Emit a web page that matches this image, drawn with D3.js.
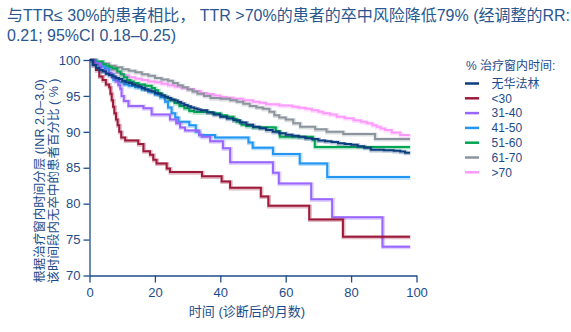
<!DOCTYPE html>
<html>
<head>
<meta charset="utf-8">
<script src="https://cdn.jsdelivr.net/npm/d3@7"></script>
<style>
  html, body { margin: 0; padding: 0; background: #fff; }
  svg { display: block; font-family: "Liberation Sans", Arial, "Noto Sans CJK SC", sans-serif; }
</style>
</head>
<body>
<svg id="chart" width="571" height="332"></svg>
<script>
// Kaplan–Meier style survival steps: [month, % free of stroke]
const noWarfarin = [[0,100],[1,99.3],[2,98.9],[3,98.6],[4,98.4],[5,98.1],[6,97.9],[7,97.7],[8,97.5],[9,97.35],[10,97.1],[11,96.9],[12,96.8],[13,96.6],[14,96.45],[15,96.3],[16,96.1],[17,95.9],[18,95.75],[19,95.6],[20,95.4],[21,95.25],[22,95.05],[23,94.9],[24,94.7],[25,94.5],[26,94.35],[27,94.15],[28,93.95],[29,93.75],[30,93.55],[31,93.4],[32,93.25],[33,93.1],[34,93.0],[36,92.7],[38,92.4],[40,92.1],[42,91.85],[44,91.6],[46,91.3],[48,91.0],[50,90.7],[52,90.5],[54,90.25],[56,90.0],[58,89.8],[60,89.6],[62,89.45],[64,89.3],[66,89.1],[68,89.0],[70,88.8],[72,88.7],[74,88.6],[76,88.4],[78,88.3],[80,88.2],[82,88.0],[84,87.8],[86,87.5],[90,87.45],[93,87.35],[95,87.25],[96.5,87.1],[98,87.1]];
const ttrUnder30 = [[0,100],[1,99.3],[2,98.6],[3,97.7],[4,97.2],[5,96.6],[6,96.2],[6.4,95.3],[6.8,94.4],[7.2,93.5],[7.6,92.6],[8.1,91.7],[8.6,90.9],[9.1,90.0],[9.7,89.2],[10.9,88.8],[14.9,88.3],[16.5,87.3],[18.5,86.8],[19.5,86.1],[20.5,85.6],[23.6,84.9],[24.6,84.4],[34.4,83.8],[40.4,83.1],[43,82.2],[52.4,81.0],[54.7,79.7],[67.2,77.8],[77.5,75.4],[98,75.4]];
const ttr31to40 = [[0,100],[1.5,99.5],[3.3,98.6],[5,98.2],[6.8,97.6],[8,97.0],[8.8,96.5],[9.4,96.0],[9.8,95.0],[10.5,94.3],[11.9,93.6],[16.5,93.3],[19,92.4],[24.6,91.7],[26.5,91.2],[27.7,90.6],[29.2,90.2],[33.5,89.6],[34.3,89.3],[36.9,88.7],[40.8,87.7],[43,85.75],[56.1,84.3],[57.9,82.8],[67.8,80.6],[74.2,78.1],[89.6,74.0],[98,74.0]];
const ttr41to50 = [[0,100],[1.5,99.5],[3,99.1],[4.7,98.8],[6,98.0],[7.3,97.2],[9,96.9],[10.5,96.6],[12,96.4],[14,96.2],[16,95.9],[18,95.6],[20,95.2],[21.6,94.8],[23.1,94.2],[24,93.4],[25.1,92.6],[26.2,92.0],[27.2,91.4],[30.5,90.9],[32.5,90.0],[33.6,89.55],[38.4,89.2],[48.6,88.5],[49.9,87.8],[56.1,86.9],[64.3,85.6],[72.7,83.7],[98,83.7]];
const ttr51to60 = [[0,100],[2,99.8],[4,99.4],[5,99.2],[6,99.0],[7,98.8],[8.5,98.4],[9.5,98.0],[10.5,97.6],[11.5,97.2],[12.5,97.0],[13.5,96.8],[15,96.6],[17,96.4],[19,96.1],[20,95.8],[21,95.4],[22,95.1],[23,94.7],[24.5,94.4],[26,94.0],[27.5,93.6],[29,93.3],[30.5,92.9],[32,92.75],[37.5,92.6],[40,92.3],[42,92.1],[44,91.8],[45,91.4],[46.5,91.0],[48,90.8],[50,90.65],[56,90.6],[57,90.1],[58.2,89.3],[68.3,88.9],[68.9,87.9],[98,87.9]];
const ttr61to70 = [[0,100],[2,99.7],[4,99.5],[6,99.2],[8,99.0],[10,98.7],[12,98.5],[14,98.3],[16,98.0],[18,97.8],[20,97.5],[22,97.3],[24,97.1],[25.5,96.8],[27,96.5],[28.5,96.2],[30,95.9],[31.5,95.6],[33,95.3],[35,95.0],[37,94.7],[40,94.6],[43,94.4],[45,94.2],[47,93.9],[49,93.6],[51,93.4],[53,93.2],[55,92.8],[56.5,92.3],[58,92.0],[60,91.7],[62.3,91.2],[64.4,90.7],[69,90.35],[72.5,90.0],[77.6,89.7],[87.3,89.0],[98,89.0]];
const ttrOver70 = [[0,100],[2,99.5],[4,99.0],[6,98.6],[8,98.2],[10,97.9],[12,97.6],[14,97.4],[16,97.2],[18,97.0],[20,96.9],[22,96.7],[24,96.5],[26,96.3],[28,96.15],[30,95.95],[32,95.7],[34,95.4],[36,95.25],[38,95.05],[40,94.85],[42,94.75],[44,94.6],[47,94.4],[50,94.2],[52,94.05],[54,93.85],[58,93.65],[62,93.5],[64,93.35],[66,93.2],[68,93.0],[70,92.8],[71.4,92.6],[73.5,92.4],[75.6,92.1],[78,91.9],[80.7,91.6],[83,91.4],[84.8,91.2],[86.5,90.9],[87.8,90.7],[89,90.45],[90.4,90.25],[92.4,89.9],[95,89.55],[98,89.55]];

const seriesNames = ["无华法林", "<30", "31-40", "41-50", "51-60", "61-70", ">70"];
const seriesData = [noWarfarin, ttrUnder30, ttr31to40, ttr41to50, ttr51to60, ttr61to70, ttrOver70];
const seriesColors = ["#0c3d7e", "#9d1a3b", "#9966ff", "#2196f3", "#00a651", "#8c959e", "#ff99ff"];

const xTicks = [0, 20, 40, 60, 80, 100];
const yTicks = [70, 75, 80, 85, 90, 95, 100];

const titleLines = ["与TTR≤ 30%的患者相比， TTR >70%的患者的卒中风险降低79% (经调整的RR:", "0.21; 95%CI 0.18–0.25)"];
const yLabelLines = ["根据治疗窗内时间分层 (INR 2.0–3.0)", "该时间段内无卒中的患者百分比 ( % )"];
const xLabel = "时间 (诊断后的月数)";
const legendTitle = "% 治疗窗内时间:";

const ink = "#1d4c8a";
const svg = d3.select("#chart");

const x = d3.scaleLinear().domain([0, 100]).range([89.5, 416.5]);
const y = d3.scaleLinear().domain([70, 100]).range([275.5, 60]);

// title
svg.append("g").selectAll("text").data(titleLines).join("text")
  .attr("x", 7).attr("y", (d, i) => 21 + i * 20)
  .attr("font-size", 16).attr("fill", "#2a5790")
  .text(d => d);

// axes
const xAxis = svg.append("g").attr("transform", `translate(0,${y(70)})`)
  .call(d3.axisBottom(x).tickValues(xTicks).tickSize(7).tickSizeOuter(0).tickPadding(5));
const yAxis = svg.append("g").attr("transform", `translate(${x(0)},0)`)
  .call(d3.axisLeft(y).tickValues(yTicks).tickSize(6).tickSizeOuter(0).tickPadding(3));
[xAxis, yAxis].forEach(g => {
  g.select(".domain").attr("stroke", ink).attr("stroke-width", 1.3);
  g.selectAll(".tick line").attr("stroke", ink).attr("stroke-width", 1.3);
  g.selectAll(".tick text").attr("fill", ink).attr("font-size", 13)
    .attr("font-family", "'Liberation Sans', Arial, sans-serif");
});

// axis titles
svg.append("text").attr("x", 247).attr("y", 316).attr("text-anchor", "middle")
  .attr("font-size", 13).attr("fill", ink).text(xLabel);
svg.append("g").selectAll("text").data(yLabelLines).join("text")
  .attr("transform", (d, i) => `translate(${44 + i * 14},181) rotate(-90)`)
  .attr("text-anchor", "middle").attr("font-size", 12.5).attr("fill", ink)
  .text(d => d);

// survival curves
const line = d3.line().x(d => x(d[0])).y(d => y(d[1])).curve(d3.curveStepAfter);
const order = [6, 5, 4, 3, 2, 1, 0];
const curves = svg.append("g");
order.forEach(i => {
  curves.append("path").attr("d", line(seriesData[i]))
    .attr("fill", "none").attr("stroke", seriesColors[i]).attr("stroke-opacity", 0.3)
    .attr("stroke-width", 4).attr("transform", "translate(0.6,0.6)");
  curves.append("path").attr("d", line(seriesData[i]))
    .attr("fill", "none").attr("stroke", seriesColors[i])
    .attr("stroke-width", 2).attr("stroke-linejoin", "miter");
});

// legend
const legend = svg.append("g");
legend.append("text").attr("x", 466).attr("y", 69.5).attr("font-size", 12).attr("fill", ink).text(legendTitle);
const rows = legend.selectAll("g.row").data(seriesNames).join("g").attr("class", "row")
  .attr("transform", (d, i) => `translate(0,${83.5 + i * 14.8})`);
rows.append("line").attr("x1", 465).attr("x2", 479).attr("y1", 0).attr("y2", 0)
  .attr("stroke", (d, i) => seriesColors[i]).attr("stroke-width", 2.5);
rows.append("text").attr("x", 491.5).attr("y", 4.3).attr("font-size", 12).attr("fill", ink).text(d => d);
</script>
</body>
</html>
